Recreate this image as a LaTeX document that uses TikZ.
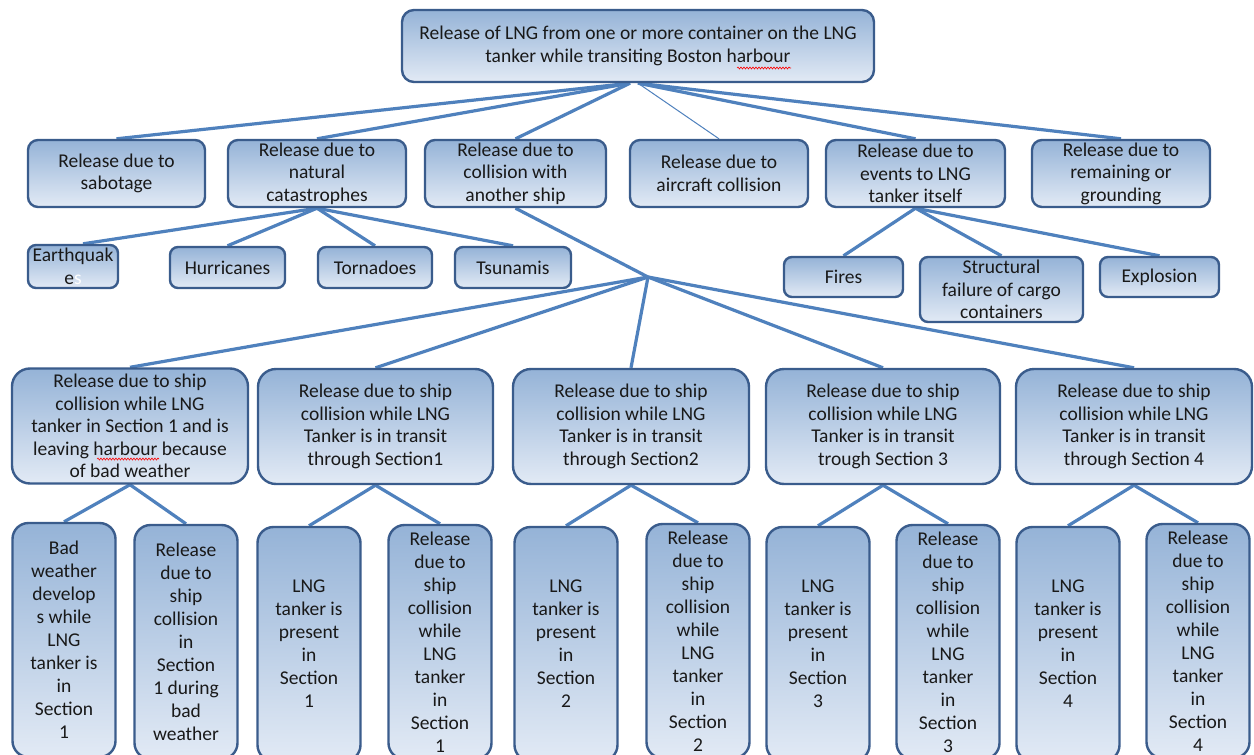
\documentclass[tikz,border=0pt]{standalone}
\usepackage{fontspec}
\setmainfont{Carlito}
\usetikzlibrary{decorations.pathmorphing,backgrounds}
\definecolor{bord}{HTML}{3A5C8C}
\definecolor{ftop}{HTML}{95B3D7}
\definecolor{fbot}{HTML}{E2EAF5}
\definecolor{conn}{HTML}{4F81BD}
\tikzset{
 box/.style={draw=bord, line width=2.4pt, rounded corners=#1, top color=ftop, bottom color=fbot,
   inner sep=0pt, align=center, font=\fontsize{19.5}{22.5}\selectfont, text=black!90},
 box/.default=10pt,
 tall/.style={box=16pt, minimum width=103, minimum height=234, font=\fontsize{19.5}{23}\selectfont},
 mid/.style={box=18pt, minimum width=236, minimum height=115},
 conn/.style={draw=conn, line width=3.2pt},
 squig/.style={draw=red, line width=0.6pt, decorate, decoration={snake, amplitude=1pt, segment length=3pt}},
}
\begin{document}
\begin{tikzpicture}[x=1pt,y=-1pt]
\useasboundingbox (0,0) rectangle (1254,755);
\clip (0,0) rectangle (1254,755);
% top
\node[box=12pt, minimum width=472, minimum height=72] (top) at (638,46)
 {Release of LNG from one or more container on the LNG\\tanker while transiting Boston harbour};
\coordinate (tl) at ([xshift=-8pt]top.south);
% row 2
\node[box, minimum width=177, minimum height=67] (sab) at (116.5,173.5) {Release due to\\sabotage};
\node[box, minimum width=178, minimum height=67] (nat) at (317,173.5) {Release due to\\natural\\catastrophes};
\node[box, minimum width=181, minimum height=67] (col) at (515.5,173.5) {Release due to\\collision with\\another ship};
\node[box, minimum width=178, minimum height=67] (air) at (719,173.5) {Release due to\\aircraft collision};
\node[box, minimum width=179, minimum height=67] (evt) at (915.5,173.5) {Release due to\\events to LNG\\tanker itself};
\node[box, minimum width=178, minimum height=67] (rem) at (1121,173.5) {Release due to\\remaining or\\grounding};
% row 3
\node[box=8pt, minimum width=90, minimum height=43] (eq) at (73,266.5) {Earthquak\\e\textcolor{white}{s}};
\node[box=8pt, minimum width=115, minimum height=41] (hur) at (227.5,267.5) {Hurricanes};
\node[box=8pt, minimum width=114, minimum height=41] (tor) at (375,267.5) {Tornadoes};
\node[box=8pt, minimum width=116, minimum height=41] (tsu) at (513,267.5) {Tsunamis};
\node[box=8pt, minimum width=119, minimum height=40] (fir) at (843.5,277) {Fires};
\node[box=8pt, minimum width=163, minimum height=65] (str) at (1001.5,289.5) {Structural\\failure of cargo\\containers};
\node[box=8pt, minimum width=119, minimum height=40] (exp) at (1159.5,277) {Explosion};
\coordinate (j) at (648,277);
% row 4
\node[mid] (A) at (130,426) {Release due to ship\\collision while LNG\\tanker in Section 1 and is\\leaving harbour because\\of bad weather};
\node[mid, minimum width=235] (B) at (375.5,426.5) {Release due to ship\\collision while LNG\\Tanker is in transit\\through Section1};
\node[mid] (C) at (631,426.5) {Release due to ship\\collision while LNG\\Tanker is in transit\\through Section2};
\node[mid, minimum width=234] (D) at (883,426.5) {Release due to ship\\collision while LNG\\Tanker is in transit\\trough Section 3};
\node[mid] (E) at (1134,426.5) {Release due to ship\\collision while LNG\\Tanker is in transit\\through Section 4};
% row 5
\node[tall] (A1) at (64,640) {Bad\\weather\\develop\\s while\\LNG\\tanker is\\in\\Section\\1};
\node[tall] (A2) at (186,642) {Release\\due to\\ship\\collision\\in\\Section\\1 during\\bad\\weather};
\node[tall] (B1) at (309,644) {LNG\\tanker is\\present\\in\\Section\\1};
\node[tall] (B2) at (440,642) {Release\\due to\\ship\\collision\\while\\LNG\\tanker\\in\\Section\\1};
\node[tall] (C1) at (566,644) {LNG\\tanker is\\present\\in\\Section\\2};
\node[tall] (C2) at (698,641) {Release\\due to\\ship\\collision\\while\\LNG\\tanker\\in\\Section\\2};
\node[tall] (D1) at (818,644) {LNG\\tanker is\\present\\in\\Section\\3};
\node[tall] (D2) at (948,642) {Release\\due to\\ship\\collision\\while\\LNG\\tanker\\in\\Section\\3};
\node[tall] (E1) at (1068,644) {LNG\\tanker is\\present\\in\\Section\\4};
\node[tall] (E2) at (1198,641) {Release\\due to\\ship\\collision\\while\\LNG\\tanker\\in\\Section\\4};
% connectors
\begin{pgfonlayer}{background}
\fill[white] (0,0) rectangle (1254,755);
\draw[conn] (tl) -- (sab.north);
\draw[conn] (tl) -- (nat.north);
\draw[conn] (tl) -- (col.north);
\draw[draw=conn, line width=1pt] (top.south) -- (air.north);
\draw[conn] (top.south) -- (evt.north);
\draw[conn] (top.south) -- (rem.north);
\draw[conn] (nat.south) -- ([xshift=10pt]eq.north);
\draw[conn] (nat.south) -- (hur.north);
\draw[conn] (nat.south) -- (tor.north);
\draw[conn] (nat.south) -- (tsu.north);
\draw[conn] (evt.south) -- (fir.north);
\draw[conn] (evt.south) -- (str.north);
\draw[conn] (evt.south) -- (exp.north);
\draw[conn] (col.south) -- (j);
\foreach \n in {A,B,C,D,E} {\draw[conn] (j) -- (\n.north);}
\foreach \p in {A,B,C,D,E} {
  \draw[conn] (\p.south) -- (\p1.north);
  \draw[conn] (\p.south) -- (\p2.north);
}
\end{pgfonlayer}
% spell-check marks
\draw[squig] (737,68) -- (791,68);
\draw[squig] (97,459) -- (159,459);
\end{tikzpicture}
\end{document}
